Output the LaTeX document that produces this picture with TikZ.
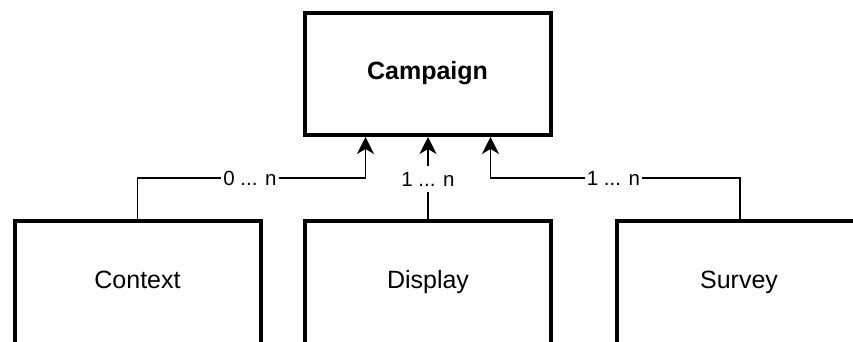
\documentclass[tikz,border=0pt]{standalone}
\usepackage{fontspec}
\setmainfont{Liberation Sans}
\usetikzlibrary{arrows.meta,calc}
\begin{document}
\begin{tikzpicture}[x=1pt,y=-1pt,
  box/.style={draw=black, line width=4pt, minimum width=246pt, inner sep=0pt, fill=white},
  boxtext/.style={anchor=base, inner sep=0pt, font=\fontsize{25}{30}\selectfont},
  conn/.style={draw=black, line width=1.6pt, -{Stealth[length=17pt,width=17pt,inset=5pt]}},
  lbl/.style={fill=white, inner xsep=2pt, inner ysep=6pt, font=\fontsize{20.5}{24}\selectfont}
]
\useasboundingbox (0,0) rectangle (853,342);
\clip (0,0) rectangle (853,342);
% boxes
\node[box, minimum height=122pt] (camp) at (427.5,74) {};
\node[boxtext, font=\fontsize{25}{30}\selectfont\bfseries] (campt) at (427.5,80) {Campaign};
\node[box, minimum height=150pt, anchor=north] (ctx) at (137.5,219) {};
\node[boxtext] (ctxt) at (137.5,288) {Context};
\node[box, minimum height=150pt, anchor=north] (disp) at (428,219) {};
\node[boxtext] (dispt) at (428,288) {Display};
\node[box, minimum height=150pt, anchor=north] (surv) at (739.5,219) {};
\node[boxtext] (survt) at (739,288) {Survey};
% connector end points on Campaign
\coordinate (c1) at ($(camp.south)+(-62,0)$);
\coordinate (c3) at ($(camp.south)+(63,0)$);
\coordinate (m1) at (250,178);
\coordinate (m2) at (428,179);
\coordinate (m3) at (613.5,178);
% connectors
\draw[conn] (ctx.north) |- (c1 |- m1) -- (c1);
\draw[conn] (disp.north) -- (disp.north |- camp.south);
\draw[conn] ($(surv.north)+(0.5,0)$) |- (c3 |- m3) -- (c3);
% labels
\node[lbl] (l1) at (m1) {0 ... n};
\node[lbl] (l2) at (m2) {1 ... n};
\node[lbl] (l3) at (m3) {1 ... n};
\end{tikzpicture}
\end{document}
